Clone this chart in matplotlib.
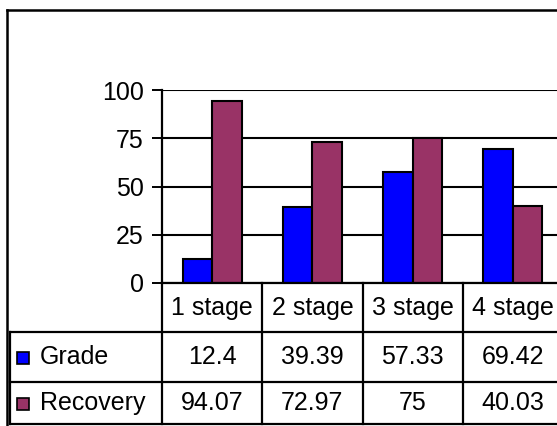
import matplotlib
matplotlib.use("Agg")
import matplotlib.pyplot as plt
import matplotlib.transforms as mtransforms
from matplotlib.patches import Rectangle
from matplotlib.lines import Line2D
import numpy as np

categories = ["1 stage", "2 stage", "3 stage", "4 stage"]
series_names = ["Grade", "Recovery"]
grade = [12.4, 39.39, 57.33, 69.42]
recovery = [94.07, 72.97, 75, 40.03]
grade_labels = ["12.4", "39.39", "57.33", "69.42"]
recovery_labels = ["94.07", "72.97", "75", "40.03"]
yticks = [0, 25, 50, 75, 100]
colors = ["#0000FF", "#993366"]

plt.rcParams['font.family'] = ['Liberation Sans', 'DejaVu Sans']
FS = 18

W, H = 557, 426
fig = plt.figure(figsize=(W / 100, H / 100), dpi=100)
fig.patch.set_facecolor("white")

def fx(x):
    return x / W

def fy(y):
    return 1 - y / H

ax_l, ax_r, ax_t, ax_b = 162, 563, 90, 283
ax = fig.add_axes([fx(ax_l), fy(ax_b), fx(ax_r - ax_l), (ax_b - ax_t) / H])
ax.set_facecolor("white")

x = np.arange(len(categories))
bw = 0.295
ax.bar(x - bw / 2, grade, bw, color=colors[0], edgecolor="black", linewidth=1.5, zorder=3)
ax.bar(x + bw / 2, recovery, bw, color=colors[1], edgecolor="black", linewidth=1.5, zorder=3)

ax.set_xlim(-0.5, len(categories) - 0.5)
ax.set_ylim(0, 100)
ax.set_yticks(yticks)
ax.set_yticklabels([str(v) for v in yticks], fontsize=FS)
ax.set_xticks([])
ax.yaxis.grid(True, color="black", linewidth=1.5, zorder=1)
ax.set_axisbelow(True)
for s in ["top", "right"]:
    ax.spines[s].set_visible(False)
for s in ["left", "bottom"]:
    ax.spines[s].set_linewidth(1.6)
    ax.spines[s].set_zorder(4)
ax.tick_params(axis="y", length=7, width=1.4, pad=6, direction="out")

# table below axes: x in data units, y in figure fraction
bt = mtransforms.blended_transform_factory(ax.transData, fig.transFigure)
row_cat = (283, 332)
row_g = (332, 382)
row_r = (382, 424)
x_left_hdr = -0.5 - (ax_l - 10) / 100.25

lw = 1.6
for i in range(len(categories)):
    xb = i - 0.5
    fig.add_artist(Line2D([xb, xb], [fy(row_cat[0]), fy(row_r[1])], transform=bt,
                          color="black", linewidth=lw, clip_on=False))
for yy in [row_g[0], row_r[0], row_r[1]]:
    fig.add_artist(Line2D([x_left_hdr, 4.0], [fy(yy), fy(yy)], transform=bt,
                          color="black", linewidth=lw, clip_on=False))
fig.add_artist(Line2D([x_left_hdr, x_left_hdr], [fy(row_g[0]), fy(row_r[1])], transform=bt,
                      color="black", linewidth=lw, clip_on=False))

for i, c in enumerate(categories):
    fig.text(i, fy(sum(row_cat) / 2), c, transform=bt, ha="center", va="center", fontsize=FS)
    fig.text(i, fy(sum(row_g) / 2), grade_labels[i], transform=bt, ha="center", va="center", fontsize=FS)
    fig.text(i, fy(sum(row_r) / 2), recovery_labels[i], transform=bt, ha="center", va="center", fontsize=FS)

for name, col, row in zip(series_names, colors, [row_g, row_r]):
    yc = sum(row) / 2 + 1
    fig.add_artist(Rectangle((fx(17), fy(yc + 6)), fx(12), 12 / H, transform=fig.transFigure,
                             facecolor=col, edgecolor="black", linewidth=1.2))
    fig.text(fx(40), fy(sum(row) / 2), name, ha="left", va="center", fontsize=FS)

fig.add_artist(Line2D([fx(7), fx(7)], [fy(10), fy(426)], transform=fig.transFigure,
                      color="black", linewidth=1.8))
fig.add_artist(Line2D([fx(7), fx(557)], [fy(10), fy(10)], transform=fig.transFigure,
                      color="black", linewidth=1.8))

fig.savefig("out.png", dpi=100, facecolor="white")
